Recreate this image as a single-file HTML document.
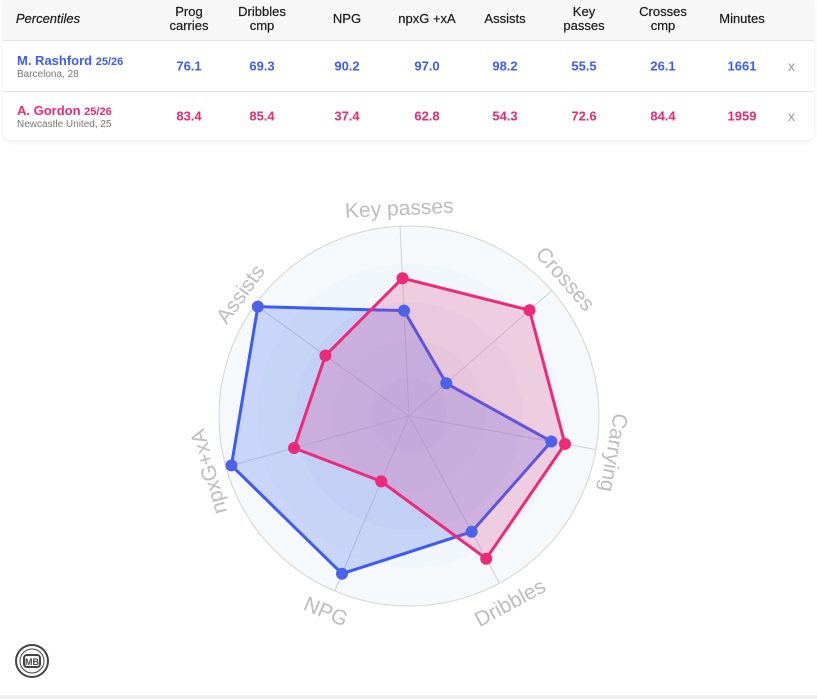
<!DOCTYPE html>
<html><head><meta charset="utf-8"><style>
body{margin:0;width:817px;height:699px;background:#fff;font-family:"Liberation Sans",sans-serif;position:relative;overflow:hidden}
.card{position:absolute;left:3px;top:0;width:811px;height:140px;border-radius:0 0 8px 8px;box-shadow:0 2px 6px rgba(0,0,0,0.08);background:#fff}
.hdr{position:absolute;left:0;top:0;width:811px;height:40px;background:#f7f7f7;border-bottom:1px solid #e3e3e3}
.c{position:absolute;transform:translateX(-50%);text-align:center;font-size:13px;line-height:14px;color:#1a1a1a;-webkit-text-stroke:0.2px #1a1a1a}
.row{position:absolute;left:0;width:811px;height:50px}
.v{position:absolute;transform:translate(-50%,-50%);font-size:13px;font-weight:bold;top:25px}
.b{color:#3d5cf0}.p{color:#e92a72}
.nm{position:absolute;left:14px;top:12px;font-size:13px;font-weight:bold}
.nm small{font-size:11px}
.sub{position:absolute;left:14px;top:28px;font-size:10px;color:#777}
.x{position:absolute;left:785px;top:17px;color:#999;font-size:14px}
.foot{position:absolute;left:0;top:695px;width:817px;height:4px;background:#f0f0f0}
</style></head><body>
<div class="card">
<div class="hdr">
<div class="c" style="left:45px;top:12px;font-style:italic">Percentiles</div>
<div class="c" style="left:186px;top:5px">Prog<br>carries</div>
<div class="c" style="left:259px;top:5px">Dribbles<br>cmp</div>
<div class="c" style="left:344px;top:12px">NPG</div>
<div class="c" style="left:424px;top:12px">npxG +xA</div>
<div class="c" style="left:502px;top:12px">Assists</div>
<div class="c" style="left:581px;top:5px">Key<br>passes</div>
<div class="c" style="left:660px;top:5px">Crosses<br>cmp</div>
<div class="c" style="left:739px;top:12px">Minutes</div>
</div>
<div class="row" style="top:41px;border-bottom:1px solid #e3e3e3">
<div class="nm b">M. Rashford <small>25/26</small></div><div class="sub">Barcelona, 28</div>
<div class="v b" style="left:186px">76.1</div><div class="v b" style="left:259px">69.3</div><div class="v b" style="left:344px">90.2</div><div class="v b" style="left:424px">97.0</div><div class="v b" style="left:502px">98.2</div><div class="v b" style="left:581px">55.5</div><div class="v b" style="left:660px">26.1</div><div class="v b" style="left:739px">1661</div><div class="x">x</div>
</div>
<div class="row" style="top:91px">
<div class="nm p">A. Gordon <small>25/26</small></div><div class="sub">Newcastle United, 25</div>
<div class="v p" style="left:186px">83.4</div><div class="v p" style="left:259px">85.4</div><div class="v p" style="left:344px">37.4</div><div class="v p" style="left:424px">62.8</div><div class="v p" style="left:502px">54.3</div><div class="v p" style="left:581px">72.6</div><div class="v p" style="left:660px">84.4</div><div class="v p" style="left:739px">1959</div><div class="x">x</div>
</div>
</div>
<svg id="r" width="817" height="699" style="position:absolute;left:0;top:0" xmlns="http://www.w3.org/2000/svg">
<circle cx="409" cy="416" r="190" fill="#f5f9fc" stroke="#d4d4d4"/>
<circle cx="409" cy="416" r="152" fill="#f0f6f9"/>
<circle cx="409" cy="416" r="114" fill="#ebf1f7"/>
<circle cx="409" cy="416" r="76" fill="#e6ecf4"/>
<circle cx="409" cy="416" r="38" fill="#e1e7f0"/>
<g id="ax" stroke="#d0d0d0" stroke-width="1"></g>
<g id="poly"></g>
<g id="lab" font-size="21" fill="#bdbdbd" font-family="Liberation Sans, sans-serif" text-anchor="middle"></g>
<g transform="translate(32,661)" fill="none" stroke="#444" stroke-width="2">
<circle r="16"/><circle r="12" stroke-width="1"/><rect x="-8" y="-6" width="16" height="12" rx="3" fill="#fff"/>
<text x="0" y="4" font-size="9" font-weight="bold" fill="#444" stroke="none" text-anchor="middle" font-family="Liberation Sans, sans-serif">MB</text>
</g>
</svg>
<div class="foot"></div>
<script>
var cx=409,cy=416,R=190,ns="http://www.w3.org/2000/svg";
var names=["Key passes","Crosses","Carrying","Dribbles","NPG","npxG+xA","Assists"];
var th=[];for(var i=0;i<7;i++)th.push(-2.7+i*360/7);
function pt(t,r){var a=t*Math.PI/180;return[cx+r*Math.sin(a),cy-r*Math.cos(a)];}
var ax=document.getElementById('ax'),poly=document.getElementById('poly'),lab=document.getElementById('lab');
th.forEach(function(t,i){var p=pt(t,R);var l=document.createElementNS(ns,'line');l.setAttribute('x1',cx);l.setAttribute('y1',cy);l.setAttribute('x2',p[0]);l.setAttribute('y2',p[1]);ax.appendChild(l);
var q=pt(t,i==3||i==4?205:201);var tx=document.createElementNS(ns,'text');var rot=t;if(i==3||i==4)rot=t-180;if(i==5)rot=t-360;
tx.setAttribute('x',q[0]);tx.setAttribute('y',q[1]);tx.setAttribute('dominant-baseline',(i==3||i==4)?'hanging':'auto');tx.setAttribute('transform','rotate('+rot+' '+q[0]+' '+q[1]+')');tx.textContent=names[i];lab.appendChild(tx);});
function draw(vals,stroke,fill){var pts=vals.map(function(v,i){return pt(th[i],R*v/100);});
var pg=document.createElementNS(ns,'polygon');pg.setAttribute('points',pts.map(function(p){return p.join(',')}).join(' '));pg.setAttribute('fill',fill);pg.setAttribute('stroke',stroke);pg.setAttribute('stroke-width','3');pg.setAttribute('stroke-linejoin','round');poly.appendChild(pg);return pts;}
var bp=draw([55.5,26.1,76.1,69.3,90.2,97.0,98.2],'#3b5bf2','rgba(70,110,240,0.25)');
var pp=draw([72.6,84.4,83.4,85.4,37.4,62.8,54.3],'#ec2a78','rgba(230,60,140,0.22)');
function dots(pts,c){pts.forEach(function(p){var d=document.createElementNS(ns,'circle');d.setAttribute('cx',p[0]);d.setAttribute('cy',p[1]);d.setAttribute('r',6);d.setAttribute('fill',c);poly.appendChild(d);});}
dots(bp,'#4a63e8');dots(pp,'#ec2a78');
</script>
</body></html>
